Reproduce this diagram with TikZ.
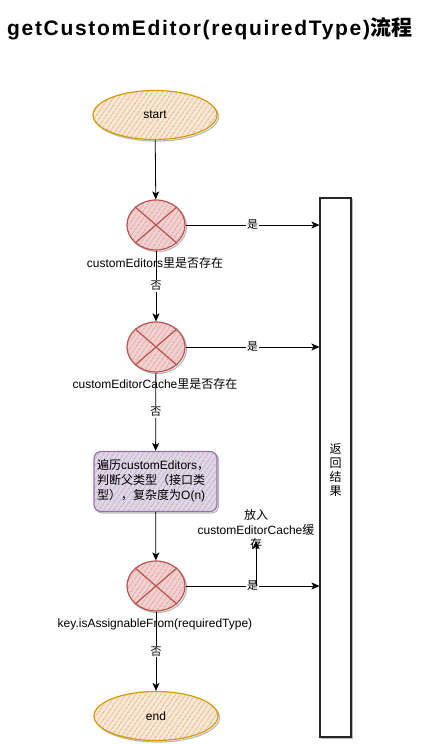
\documentclass[tikz,border=0pt]{standalone}
\usepackage{fontspec}
\setmainfont{Liberation Sans}
\newfontfamily\cjk{Noto Sans CJK SC}
\newfontfamily\titlefont[LetterSpace=8]{Liberation Sans}
\newfontfamily\titlecjk[LetterSpace=4]{Noto Sans CJK SC}
\newcommand{\zh}[1]{{\cjk #1}}
\usetikzlibrary{arrows.meta,patterns.meta,shapes.geometric}
\definecolor{orS}{HTML}{D79B00}
\definecolor{orF}{HTML}{FFE6CC}
\definecolor{rdS}{HTML}{B85450}
\definecolor{rdF}{HTML}{F8CECC}
\definecolor{puS}{HTML}{9673A6}
\definecolor{puF}{HTML}{E1D5E7}
\tikzset{
  hatch/.style={preaction={fill=#1}, pattern={Lines[angle=55,distance=4pt,line width=0.55pt]}, pattern color=gray!80},
  sk/.style={preaction={draw=gray!55, line width=1.2pt, transform canvas={xshift=1.5pt,yshift=-1.5pt}}},
  term/.style={ellipse, sk, hatch=orF, draw=orS, line width=1.2pt, inner sep=0pt, minimum width=124pt, minimum height=49pt, font=\fontsize{12}{14}\selectfont},
  sumc/.style={ellipse, sk, hatch=rdF, draw=rdS, line width=1.2pt, inner sep=0pt, minimum width=58pt, minimum height=50pt},
  xline/.style={draw=rdS, line width=1.2pt},
  proc/.style={rectangle, rounded corners=7pt, sk, hatch=puF, draw=puS, line width=1.2pt, inner sep=0pt, minimum width=123pt, minimum height=60pt},
  col/.style={rectangle, sk, fill=white, draw=black!85, line width=1.1pt, inner sep=0pt, minimum width=31pt, minimum height=539pt},
  txt/.style={font=\fontsize{12}{14}\selectfont, inner sep=0pt},
  lbl/.style={font=\fontsize{11}{13}\selectfont, fill=white, inner sep=1pt},
  arr/.style={draw=black, line width=0.8pt, -{Stealth[length=8pt,width=7pt,inset=2pt]}},
}
\begin{document}
\begin{tikzpicture}[x=1pt,y=-1pt]
\useasboundingbox (0,0) rectangle (431,744);
\node[anchor=west, inner sep=0pt, font=\fontsize{21}{24}\selectfont\bfseries] (title) at (7,29) {\titlefont getCustomEditor(requiredType){\titlecjk 流程}};

\node[col] (res) at (335.5,467.5) {};
\node[txt, align=center, font=\fontsize{12}{13.7}\selectfont] (restext) at (335.5,470) {\zh{返}\\\zh{回}\\\zh{结}\\\zh{果}};

\node[term] (start) at (155,115) {start};
\node[sumc] (c1) at (156,225) {};
\draw[xline] (c1.north east) -- (c1.south west) (c1.north west) -- (c1.south east);
\node[sumc] (c2) at (156,347) {};
\draw[xline] (c2.north east) -- (c2.south west) (c2.north west) -- (c2.south east);
\node[proc] (box) at (155.5,481.5) {};
\node[txt, align=left, anchor=west, font=\fontsize{12}{15}\selectfont] (boxtext) at (97,481) {\zh{遍历}customEditors\zh{，}\\\zh{判断父类型（接口类}\\\zh{型），复杂度为}O(n)};
\node[sumc] (c3) at (156,586) {};
\draw[xline] (c3.north east) -- (c3.south west) (c3.north west) -- (c3.south east);
\node[term] (end) at (156,716) {end};

% connectors
\draw[arr] (start) -- (c1);
\draw[arr] (c1.east) -- (c1.east -| res.west) node[lbl, pos=0.5] (y1) {\zh{是}};
\draw[arr] (c1) -- (c2) node[lbl, pos=0.5] (n1) {\zh{否}};
\draw[arr] (c2.east) -- (c2.east -| res.west) node[lbl, pos=0.5] (y2) {\zh{是}};
\draw[arr] (c2) -- (box) node[lbl, pos=0.5] (n2) {\zh{否}};
\draw[arr] (box) -- (c3);
\draw[arr] (c3.east) -- (c3.east -| res.west) node[lbl, pos=0.5] (y3) {\zh{是}};
\draw[arr] (c3) -- (end) node[lbl, pos=0.5] (n3) {\zh{否}};

% labels under decisions
\node[txt] (l1) at (155,263) {customEditors\zh{里是否存在}};
\node[txt] (l2) at (155,384) {customEditorCache\zh{里是否存在}};
\node[txt] (l3) at (155,624) {key.isAssignableFrom(requiredType)};

% cache note
\node[txt, align=center, font=\fontsize{12}{14.5}\selectfont] (cache) at (256,529.5) {\zh{放入}\\customEditorCache\zh{缓}\\\zh{存}};
\coordinate (j) at (256,586);
\coordinate (jt) at (256,541);
\draw[arr] (j) -- (jt);
\end{tikzpicture}
\end{document}
